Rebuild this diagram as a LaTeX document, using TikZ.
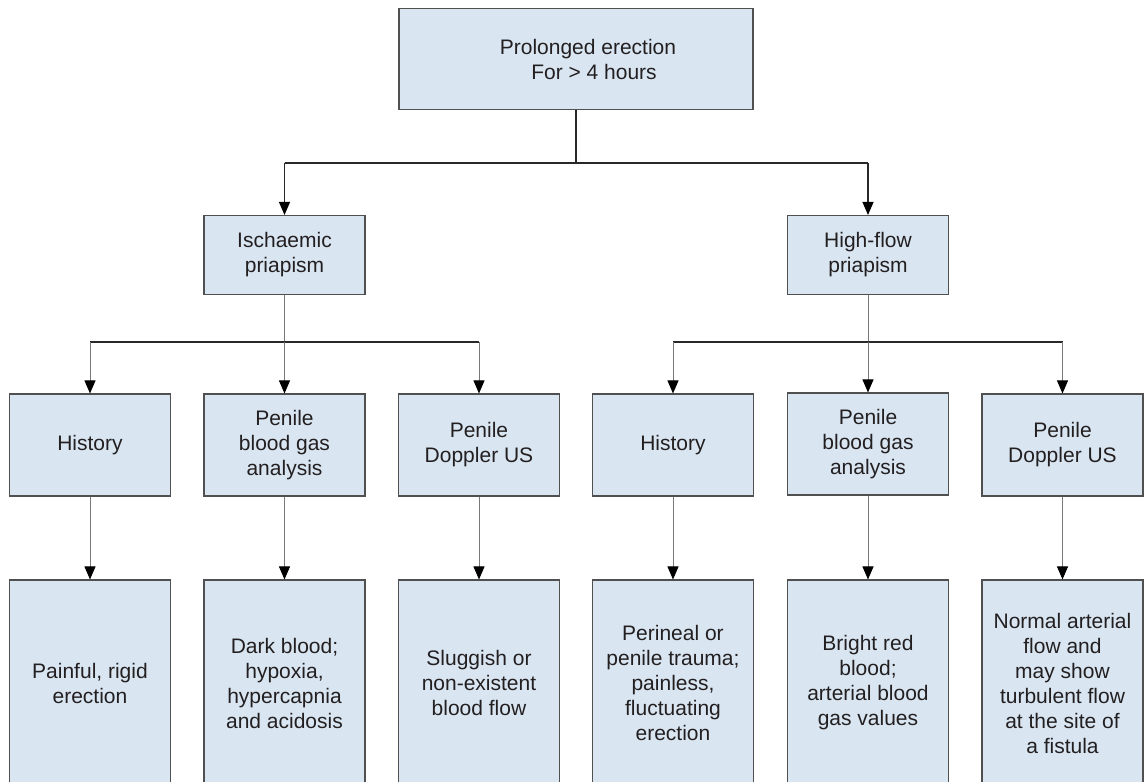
\documentclass[tikz,border=0pt]{standalone}
\usepackage{fontspec}
\setmainfont{Liberation Sans}
\usetikzlibrary{arrows.meta}
\definecolor{boxfill}{RGB}{217,230,242}
\definecolor{boxline}{RGB}{80,80,80}
\definecolor{trunk}{RGB}{40,40,40}
\definecolor{twig}{RGB}{120,120,120}
\definecolor{inktext}{RGB}{35,31,32}
\begin{document}
\begin{tikzpicture}[x=1pt,y=1pt,
  box/.style={draw=boxline, line width=1.1pt, fill=boxfill, align=center,
    inner sep=0pt, minimum width=161pt,
    font=\fontsize{21}{25}\selectfont, text=inktext},
  trunkline/.style={draw=trunk, line width=1.3pt},
  twigline/.style={draw=twig, line width=0.9pt},
  tip/.style={-{Triangle[width=11pt,length=13pt,color=black,fill=black]}},
  arr/.style={tip, draw=twig, line width=0.9pt},
  arrdark/.style={tip, draw=trunk, line width=1.1pt}]
\useasboundingbox (0,0) rectangle (1144,-782);

% root
\node[box, minimum width=354pt, minimum height=101pt] (top) at (576,-59)
  {\hspace*{24pt}Prolonged erection\\\hspace*{36pt}For > 4 hours};

% two kinds of priapism
\node[box, minimum height=79pt] (isch) at (284.5,-255) {Ischaemic\\priapism};
\node[box, minimum height=79pt] (high) at (868,-255) {High-flow\\priapism};

% investigations
\node[box, minimum height=102pt] (h1) at (90,-445)     {History};
\node[box, minimum height=102pt] (b1) at (284.5,-445)  {Penile\\blood gas\\analysis};
\node[box, minimum height=102pt] (d1) at (479,-445)    {Penile\\Doppler US};
\node[box, minimum height=102pt] (h2) at (673,-445)    {History};
\node[box, minimum height=102pt] (b2) at (868,-444)    {Penile\\blood gas\\analysis};
\node[box, minimum height=102pt] (d2) at (1062.5,-445) {Penile\\Doppler US};

% findings
\node[box, minimum height=206pt] (r1) at (90,-683)     {Painful, rigid\\erection};
\node[box, minimum height=206pt] (r2) at (284.5,-683)  {Dark blood;\\hypoxia,\\hypercapnia\\and acidosis};
\node[box, minimum height=206pt] (r3) at (479,-683)    {Sluggish or\\non-existent\\blood flow};
\node[box, minimum height=206pt] (r4) at (673,-683)    {Perineal or\\penile trauma;\\painless,\\fluctuating\\erection};
\node[box, minimum height=206pt] (r5) at (868,-683)    {Bright red\\blood;\\arterial blood\\gas values};
\node[box, minimum height=206pt] (r6) at (1062.5,-683) {Normal arterial\\flow and\\may show\\turbulent flow\\at the site of\\a fistula};

% branch points
\coordinate (j0) at (576,-163);
\coordinate (j1) at (0,-342);

% root to the two kinds
\draw[trunkline] (top.south) -- (j0);
\draw[trunkline] (isch.north |- j0) -- (high.north |- j0);
\draw[arrdark] (isch.north |- j0) -- (isch.north);
\draw[arrdark] (high.north |- j0) -- (high.north);

% kinds to investigations
\draw[twigline] (isch.south) -- (isch.south |- j1);
\draw[trunkline] (h1.north |- j1) -- (d1.north |- j1);
\draw[arr] (h1.north |- j1) -- (h1.north);
\draw[arr] (isch.south |- j1) -- (b1.north);
\draw[arr] (d1.north |- j1) -- (d1.north);

\draw[twigline] (high.south) -- (high.south |- j1);
\draw[trunkline] (h2.north |- j1) -- (d2.north |- j1);
\draw[arr] (h2.north |- j1) -- (h2.north);
\draw[arr] (high.south |- j1) -- (b2.north);
\draw[arr] (d2.north |- j1) -- (d2.north);

% investigations to findings
\draw[arr] (h1.south) -- (r1.north);
\draw[arr] (b1.south) -- (r2.north);
\draw[arr] (d1.south) -- (r3.north);
\draw[arr] (h2.south) -- (r4.north);
\draw[arr] (b2.south) -- (r5.north);
\draw[arr] (d2.south) -- (r6.north);
\end{tikzpicture}
\end{document}
